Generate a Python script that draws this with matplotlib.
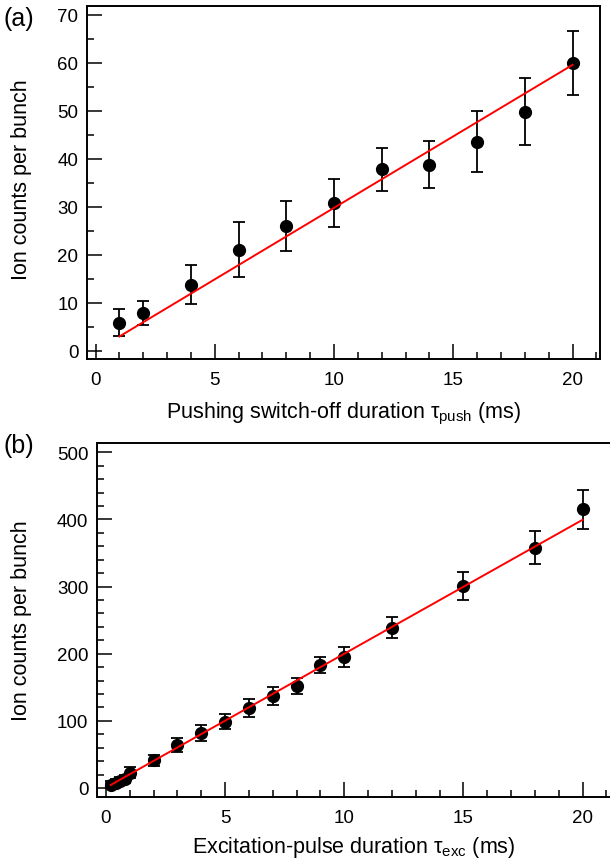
import matplotlib
matplotlib.use("Agg")
import matplotlib.pyplot as plt
from matplotlib.ticker import MultipleLocator
import numpy as np

plt.rcParams['font.family'] = ['Liberation Sans', 'DejaVu Sans']
plt.rcParams['mathtext.fontset'] = 'custom'
plt.rcParams['mathtext.rm'] = 'Liberation Sans'
plt.rcParams['mathtext.it'] = 'Liberation Sans'
plt.rcParams['font.size'] = 13

# (a) pushing switch-off duration scan
push_t = [1, 2, 4, 6, 8, 10, 12, 14, 16, 18, 20]
push_counts = [5.9, 7.9, 13.8, 21.1, 26.1, 30.8, 37.8, 38.8, 43.6, 49.8, 60.0]
push_err = [2.9, 2.5, 4.1, 5.7, 5.2, 5.0, 4.5, 4.9, 6.3, 7.0, 6.7]
push_slope, push_icpt = 2.98, 0.0

# (b) excitation-pulse duration scan
exc_t = [0.2, 0.4, 0.6, 0.8, 1, 2, 3, 4, 5, 6, 7, 8, 9, 10, 12, 15, 18, 20]
exc_counts = [5, 8, 11, 14, 23, 41, 64, 82, 99, 119, 137, 152, 183, 195,
              239, 301, 358, 415]
exc_err = [5, 5, 6, 6, 7.5, 8.7, 10.5, 11.7, 11.5, 13, 13, 12, 12, 15.5,
           16, 21, 25, 29]
exc_slope, exc_icpt = 19.95, 0.5

fig = plt.figure(figsize=(6.1, 8.62), dpi=100)
ax1 = fig.add_axes([0.1421, 0.5824, 0.8415, 0.4091])
ax2 = fig.add_axes([0.1585, 0.0746, 0.843, 0.4100])

TICK_FS = 13.5
LABEL_FS = 15.5


def style(ax, xminor, ymajor, yminor):
    ax.xaxis.set_major_locator(MultipleLocator(5))
    ax.xaxis.set_minor_locator(MultipleLocator(xminor))
    ax.yaxis.set_major_locator(MultipleLocator(ymajor))
    ax.yaxis.set_minor_locator(MultipleLocator(yminor))
    ax.tick_params(which='both', direction='in', top=False, right=False,
                   width=1.1, labelsize=TICK_FS)
    ax.tick_params(which='major', length=10.5)
    ax.tick_params(which='minor', length=5)
    ax.tick_params(axis='x', which='major', pad=9)
    ax.tick_params(axis='y', which='major', pad=6)
    for s in ax.spines.values():
        s.set_linewidth(1.4)


def draw(ax, x, y, err, slope, icpt):
    ax.errorbar(x, y, yerr=err, fmt='o', color='black', ms=8.5,
                elinewidth=1.3, capsize=4.5, capthick=1.3, zorder=3)
    xf = np.array([x[0], x[-1]])
    ax.plot(xf, slope * xf + icpt, color='#ff0000', lw=1.4, zorder=4)


draw(ax1, push_t, push_counts, push_err, push_slope, push_icpt)
ax1.set_xlim(-0.37, 21.15)
ax1.set_ylim(-1.7, 71.8)
style(ax1, 1, 10, 5)
ax1.set_xlabel(r'Pushing switch-off duration $\tau_{\mathrm{push}}$ (ms)',
               fontsize=LABEL_FS)
ax1.xaxis.set_label_coords(0.5, -0.115)
ax1.set_ylabel('Ion counts per bunch', fontsize=LABEL_FS)
ax1.yaxis.set_label_coords(-0.106, 0.51)

draw(ax2, exc_t, exc_counts, exc_err, exc_slope, exc_icpt)
ax2.set_xlim(-0.39, 21.19)
ax2.set_ylim(-13, 513.5)
style(ax2, 1, 100, 20)
ax2.spines['right'].set_visible(False)
ax2.set_xlabel(r'Excitation-pulse duration $\tau_{\mathrm{exc}}$ (ms)',
               fontsize=LABEL_FS)
ax2.xaxis.set_label_coords(0.5, -0.106)
ax2.set_ylabel('Ion counts per bunch', fontsize=LABEL_FS)
ax2.yaxis.set_label_coords(-0.125, 0.5)

fig.text(0.006, 0.978, '(a)', fontsize=18, ha='left', va='center')
fig.text(0.006, 0.483, '(b)', fontsize=18, ha='left', va='center')

fig.savefig('out.png', dpi=100)
